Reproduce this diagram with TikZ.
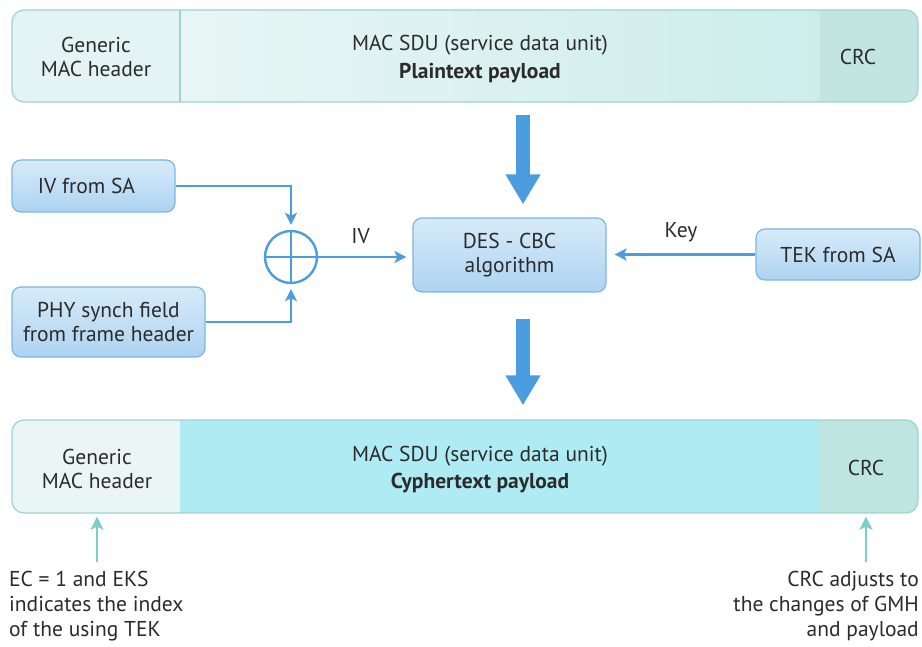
\documentclass[tikz,border=0pt]{standalone}
\usepackage{fontspec}
\setmainfont{PT Sans}
\usetikzlibrary{arrows.meta,calc}
\definecolor{txt}{HTML}{2B2B2B}
\definecolor{barborder}{HTML}{9CD3D4}
\definecolor{hdrA}{HTML}{E4F3F3}
\definecolor{midAl}{HTML}{E8F5F5}
\definecolor{midAr}{HTML}{CDEDEB}
\definecolor{crcA}{HTML}{C2E5E1}
\definecolor{hdrB}{HTML}{EAF6F6}
\definecolor{midB}{HTML}{AFEBF3}
\definecolor{crcB}{HTML}{BEE5E0}
\definecolor{boxtop}{HTML}{D7EBF9}
\definecolor{boxbot}{HTML}{ADD3F1}
\definecolor{boxborder}{HTML}{7DB6E2}
\definecolor{bluearr}{HTML}{4C9DE0}
\definecolor{tealarr}{HTML}{7ECDC7}
\tikzset{
  bbox/.style={draw=boxborder, line width=1.2pt, rounded corners=9pt,
    top color=boxtop, bottom color=boxbot, align=center, inner sep=0pt, text=txt},
  thinarrow/.style={draw=bluearr, line width=2.4pt,
    -{Stealth[length=12pt,width=12pt,inset=3pt]}},
  bigarrow/.style={draw=bluearr, line width=14pt,
    -{Triangle[length=30pt,width=33pt]}},
  tealarrow/.style={draw=tealarr, line width=2.6pt,
    -{Stealth[length=13pt,width=13pt,inset=3pt]}},
  lbl/.style={text=txt, align=center, inner sep=0pt},
  bar/.style={minimum width=906pt, minimum height=92pt, inner sep=0pt},
}
\begin{document}
\begin{tikzpicture}[x=1pt,y=-1pt, font=\fontsize{21.5}{24}\selectfont]
\useasboundingbox (0,0) rectangle (922,647);

% ---------- top bar ----------
\begin{scope}
  \clip[rounded corners=12pt] (12,10) rectangle (918,102);
  \fill[hdrA] (12,10) rectangle (180,102);
  \shade[left color=midAl, right color=midAr] (180,10) rectangle (820,102);
  \fill[crcA] (820,10) rectangle (918,102);
\end{scope}
\draw[barborder, line width=1.2pt] (180,10) -- (180,102);
\draw[barborder, line width=1.2pt, rounded corners=12pt] (12,10) rectangle (918,102);
\node[bar] (bar1) at (465,56) {};
\node[lbl] (gmh1) at (96,57) {Generic\\MAC header};
\node[lbl] (sdu1) at (480,59) {MAC SDU (service data unit)\\[4pt]\textbf{Plaintext payload}};
\node[lbl] (crc1) at (858,57) {CRC};

% ---------- bottom bar ----------
\begin{scope}
  \clip[rounded corners=12pt] (12,420) rectangle (918,513);
  \fill[hdrB] (12,420) rectangle (180,513);
  \fill[midB] (180,420) rectangle (820,513);
  \fill[crcB] (820,420) rectangle (918,513);
\end{scope}
\draw[barborder, line width=1.2pt, rounded corners=12pt] (12,420) rectangle (918,513);
\node[bar] (bar2) at (465,466.5) {};
\node[lbl] (gmh2) at (97,469) {Generic\\MAC header};
\node[lbl] (sdu2) at (480,470) {MAC SDU (service data unit)\\[3pt]\textbf{Cyphertext payload}};
\node[lbl] (crc2) at (866,468) {CRC};

% ---------- blue boxes ----------
\node[bbox, minimum width=163pt, minimum height=52pt] (ivsa) at (93.5,186) {IV from SA\hspace*{14pt}};
\node[bbox, minimum width=193pt, minimum height=70pt] (phy) at (108.5,322) {PHY synch field\\from frame header};
\node[bbox, minimum width=193pt, minimum height=74pt] (des) at (509.5,255) {DES - CBC\\algorithm};
\node[bbox, minimum width=164pt, minimum height=51pt] (tek) at (838,254.5) {TEK from SA};

% xor
\node[circle, draw=bluearr, line width=2.4pt, minimum size=52pt, inner sep=0pt] (xor) at (291,257) {};
\draw[bluearr, line width=2.4pt] (xor.north) -- (xor.south) (xor.west) -- (xor.east);

% ---------- connectors ----------
\draw[thinarrow, shorten >=5pt] (ivsa.east) -| (xor.north);
\draw[thinarrow, shorten >=5pt] (phy.east) -| (xor.south);
\draw[thinarrow, shorten >=6pt] (xor.east) -- (xor.east -| des.west)
  node[lbl, pos=0.45, above=12pt] {IV};
\draw[thinarrow, shorten >=8pt] (tek.west) -- (tek.west -| des.east)
  node[lbl, pos=0.5, above=11pt] {Key};

\draw[bigarrow, shorten <=13pt, shorten >=13pt] ([xshift=13.5pt]bar1.south -| des.north) -- ([xshift=13.5pt]des.north);
\draw[bigarrow, shorten <=26pt, shorten >=15pt] ([xshift=13.5pt]des.south) -- ([xshift=13.5pt]bar2.north -| des.south);

% ---------- annotations ----------
\node[text=txt, align=left, anchor=north west, inner sep=0pt,
      font=\fontsize{21.5}{25}\selectfont] (ann1) at (9,571)
  {EC = 1 and EKS\\indicates the index\\of the using TEK};
\node[text=txt, align=right, anchor=north east, inner sep=0pt,
      font=\fontsize{21.5}{25}\selectfont] (ann2) at (919,571)
  {CRC adjusts to\\the changes of GMH\\and payload};
\draw[tealarrow, shorten <=9pt, shorten >=4pt] (gmh2 |- ann1.north) -- (gmh2 |- bar2.south);
\draw[tealarrow, shorten <=9pt, shorten >=4pt] (crc2 |- ann2.north) -- (crc2 |- bar2.south);
\end{tikzpicture}
\end{document}
